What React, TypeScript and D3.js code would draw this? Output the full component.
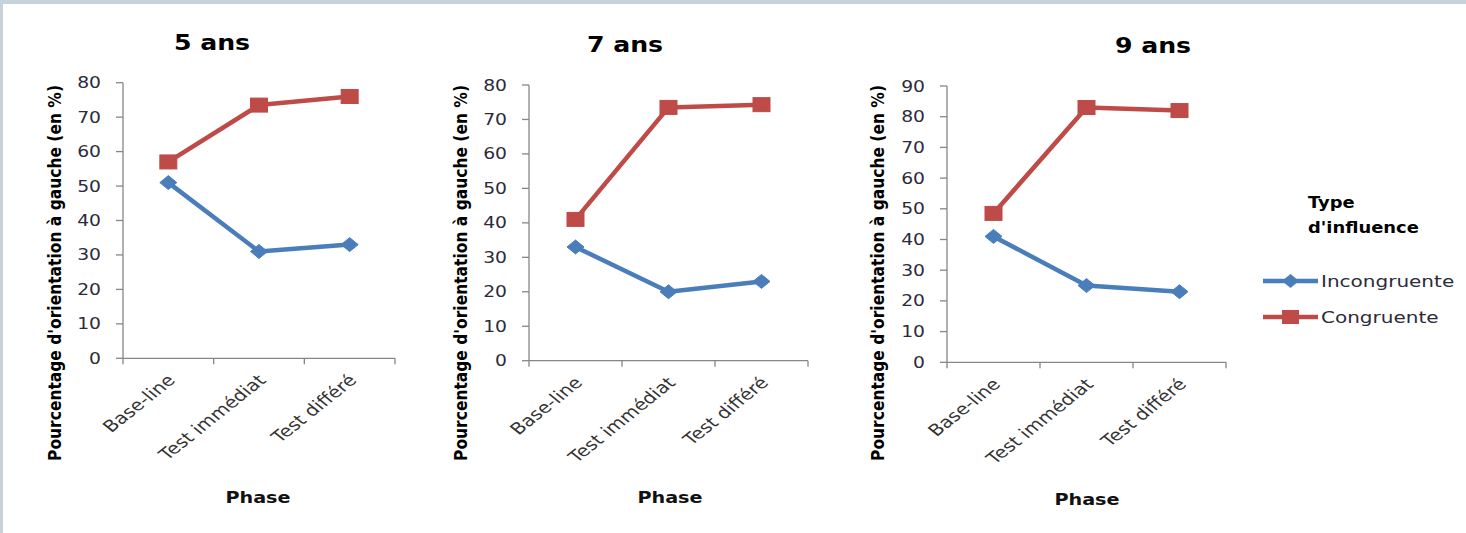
import React from "react";
import * as d3 from "d3";

// Phases on the x axis and age groups (one panel each)
const phases = ["Base-line", "Test immédiat", "Test différé"];
const ages = ["5 ans", "7 ans", "9 ans"];
const yMaxByAge = [80, 80, 90];

// Percentage of left orientation, per age group
const incongruente5 = [51, 31, 33];
const congruente5 = [57, 73.5, 76];
const incongruente7 = [33, 20, 23];
const congruente7 = [41, 73.5, 74.3];
const incongruente9 = [41, 25, 23];
const congruente9 = [48.5, 83, 82];

const seriesNames = ["Incongruente", "Congruente"];
const legendTitle = ["Type", "d'influence"];
const yLabel = "Pourcentage d'orientation à gauche  (en %)";
const xLabel = "Phase";

const W = 1466;
const H = 533;
const BLUE = "#4A7EBB";
const RED = "#BE4B48";
const AXIS = "#868686";
const TEXT = "#2b2b3a";
const SX = 1.25; // horizontal stretch of glyphs

const frames = [
  { left: 123, right: 395, bottom: 358.3, top: 82.7, titleX: 212, titleY: 50, ylabX: 61, phaseX: 258, phaseY: 503 },
  { left: 529, right: 808, bottom: 360.7, top: 85, titleX: 625, titleY: 52, ylabX: 467, phaseX: 670, phaseY: 503 },
  { left: 947, right: 1226, bottom: 362.3, top: 86, titleX: 1153, titleY: 53, ylabX: 884, phaseX: 1087, phaseY: 505 },
];

const panelData = [
  [incongruente5, congruente5],
  [incongruente7, congruente7],
  [incongruente9, congruente9],
];

function T({ x, y, rotate = 0, sx = SX, children, ...rest }: any) {
  return (
    <text transform={`translate(${x},${y}) scale(${sx},1) rotate(${rotate})`} {...rest}>
      {children}
    </text>
  );
}

function diamondPath(cx: number, cy: number, hw = 8.5, hh = 7) {
  return `M${cx},${cy - hh}L${cx + hw},${cy}L${cx},${cy + hh}L${cx - hw},${cy}Z`;
}

const BOLD = "DejaVu Sans, Verdana, sans-serif";

function Panel({ idx }: { idx: number }) {
  const f = frames[idx];
  const yMax = yMaxByAge[idx];
  const x = d3.scaleBand<string>().domain(phases).range([f.left, f.right]).padding(0);
  const y = d3.scaleLinear().domain([0, yMax]).range([f.bottom, f.top]);
  const yTicks = d3.range(0, yMax + 1, 10);
  const cx = (p: string) => (x(p) as number) + x.bandwidth() / 2;
  const line = d3
    .line<number>()
    .x((_, i) => cx(phases[i]))
    .y((v) => y(v));
  const [inc, con] = panelData[idx];
  const boundaries = [...phases.map((p) => x(p) as number), f.right];

  return (
    <g>
      <T x={f.titleX} y={f.titleY} textAnchor="middle" fontFamily={BOLD} fontWeight="bold" fontSize={21} fill="#000" sx={1.2}>
        {ages[idx]}
      </T>
      {/* y axis */}
      <line x1={f.left} x2={f.left} y1={f.top} y2={f.bottom} stroke={AXIS} strokeWidth={1.3} />
      {yTicks.map((t) => (
        <g key={t}>
          <line x1={f.left - 7} x2={f.left} y1={y(t)} y2={y(t)} stroke={AXIS} strokeWidth={1.3} />
          <T x={f.left - 22} y={y(t) + 5.5} textAnchor="end" fontFamily="DejaVu Sans, Verdana, sans-serif" fontSize={15} fill={TEXT}>
            {t}
          </T>
        </g>
      ))}
      {/* x axis */}
      <line x1={f.left} x2={f.right} y1={f.bottom} y2={f.bottom} stroke={AXIS} strokeWidth={1.3} />
      {boundaries.map((b, i) => (
        <line key={i} x1={b} x2={b} y1={f.bottom} y2={f.bottom + 6} stroke={AXIS} strokeWidth={1.3} />
      ))}
      {phases.map((p) => (
        <T key={p} x={cx(p) + 8} y={f.bottom + 23} rotate={-45} textAnchor="end" fontFamily="DejaVu Sans, Verdana, sans-serif" fontSize={16} fill="#333">
          {p}
        </T>
      ))}
      <T x={f.ylabX} y={273} rotate={-90} textAnchor="middle" fontFamily={BOLD} fontWeight="bold" fontSize={15.5} fill="#000" sx={1.1}>
        {yLabel}
      </T>
      <T x={f.phaseX} y={f.phaseY} textAnchor="middle" fontFamily={BOLD} fontWeight="bold" fontSize={16} fill="#111" sx={1.2}>
        {xLabel}
      </T>
      {/* series */}
      <path d={line(inc) || ""} fill="none" stroke={BLUE} strokeWidth={4.5} strokeLinejoin="round" />
      <path d={line(con) || ""} fill="none" stroke={RED} strokeWidth={4.5} strokeLinejoin="round" />
      {inc.map((v, i) => (
        <path key={"i" + i} d={diamondPath(cx(phases[i]), y(v))} fill={BLUE} stroke={BLUE} strokeWidth={1} />
      ))}
      {con.map((v, i) => (
        <rect key={"c" + i} x={cx(phases[i]) - 8.5} y={y(v) - 7} width={17} height={14} fill={RED} stroke={RED} strokeWidth={1} />
      ))}
    </g>
  );
}

function Legend() {
  const lx = 1263;
  const rows = [281, 317];
  const colors = [BLUE, RED];
  return (
    <g>
      {legendTitle.map((t, i) => (
        <T key={t} x={1308} y={208 + i * 25} fontFamily={BOLD} fontWeight="bold" fontSize={16} fill="#000" sx={1.12}>
          {t}
        </T>
      ))}
      {seriesNames.map((name, i) => (
        <g key={name}>
          <line x1={lx} x2={lx + 55} y1={rows[i]} y2={rows[i]} stroke={colors[i]} strokeWidth={4.5} />
          {i === 0 ? (
            <path d={diamondPath(lx + 27.5, rows[i])} fill={BLUE} />
          ) : (
            <rect x={lx + 27.5 - 8.5} y={rows[i] - 7} width={17} height={14} fill={RED} />
          )}
          <T x={lx + 58} y={rows[i] + 6} fontFamily="DejaVu Sans, Verdana, sans-serif" fontSize={16} fill={TEXT} sx={1.25}>
            {name}
          </T>
        </g>
      ))}
    </g>
  );
}

export default function App() {
  return (
    <svg width={W} height={H} viewBox={`0 0 ${W} ${H}`} style={{ position: "absolute", left: 0, top: 0 }}>
      <rect x={0} y={0} width={W} height={H} fill="#ffffff" />
      <rect x={0} y={0} width={W} height={4} fill="#c8d2da" />
      <rect x={0} y={0} width={3} height={H} fill="#c8d2da" />
      {ages.map((_, i) => (
        <Panel key={i} idx={i} />
      ))}
      <Legend />
    </svg>
  );
}
